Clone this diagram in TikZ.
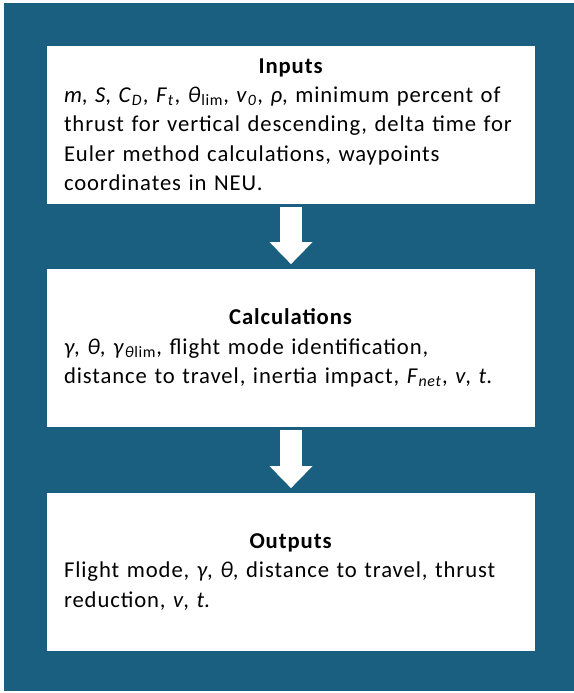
\documentclass[tikz,border=0pt]{standalone}
\usepackage{fontspec}
\setmainfont[LetterSpace=4]{Carlito}
\usepackage{xcolor}
\usetikzlibrary{arrows.meta,positioning}

\definecolor{bgblue}{HTML}{1A5E80}

\begin{document}
\begin{tikzpicture}[
  x=0.75pt, y=-0.75pt,
  stage/.style={fill=white, text=black, text width=340.5pt, inner xsep=12.75pt,
    inner ysep=0pt, minimum height=118.5pt, align=left,
    font=\fontsize{17pt}{22pt}\selectfont},
  flow/.style={white, line width=16.5pt,
    -{Triangle[width=32.25pt, length=16.5pt, line width=0pt]}},
]
% Background
\useasboundingbox (0,0) rectangle (574,693);
\fill[white] (0,0) rectangle (574,693);
\fill[bgblue] (4,3) rectangle (574,691);

% Stages
\node[stage] (inputs) at (291,124.5) {{\centering\textbf{Inputs}\par}%
  \textit{m}, \textit{S}, \textit{C}\textsubscript{\textit{D}}, \textit{F}\textsubscript{\textit{t}},
  \textit{θ}\textsubscript{lim}, \textit{v}\textsubscript{\textit{0}}, \textit{ρ}, minimum percent of\\
  thrust for vertical descending, delta time for\\
  Euler method calculations, waypoints\\
  coordinates in NEU.};
\node[stage] (calc) at (291,348) {{\centering\textbf{Calculations}\par}%
  \textit{γ}, \textit{θ}, \textit{γ}\textsubscript{\textit{θ}lim}, flight mode identification,\\
  distance to travel, inertia impact, \textit{F}\textsubscript{\textit{net}}, \textit{v}, \textit{t}.};
\node[stage] (outputs) at (291,572) {{\centering\textbf{Outputs}\par}%
  Flight mode, \textit{γ}, \textit{θ}, distance to travel, thrust\\
  reduction, \textit{v}, \textit{t}.};

% Arrows between stages
\draw[flow] ([yshift=-2.75pt]inputs.south) -- ([yshift=3.5pt]calc.north);
\draw[flow] ([yshift=-2pt]calc.south) -- ([yshift=3.5pt]outputs.north);
\end{tikzpicture}
\end{document}
